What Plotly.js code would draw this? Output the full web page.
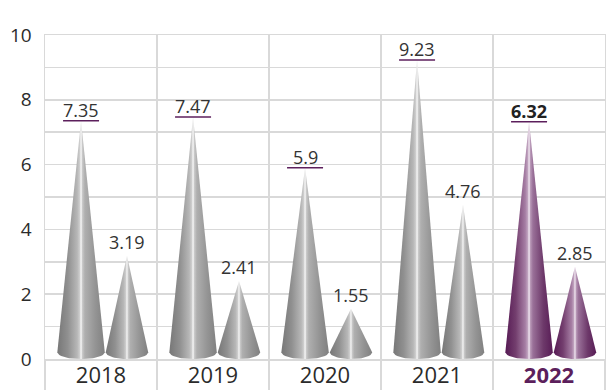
<!DOCTYPE html>
<html>
<head>
<meta charset="utf-8">
<script src="https://cdn.plot.ly/plotly-3.0.1.min.js"></script>
<style>html,body{margin:0;padding:0;background:#fff;}#chart{width:606px;height:390px;}</style>
</head>
<body>
<div id="chart"></div>
<script>
// ---- data ----
const years = ['2018', '2019', '2020', '2021', '2022'];
const firstValues = [7.35, 7.47, 5.9, 9.23, 7.32];
const firstLabels = ['7.35', '7.47', '5.9', '9.23', '6.32'];
const secondValues = [3.19, 2.41, 1.55, 4.76, 2.85];
const secondLabels = ['3.19', '2.41', '1.55', '4.76', '2.85'];
const yTicks = [0, 2, 4, 6, 8, 10];

// ---- style / geometry ----
const FONT = 'Open Sans, Noto Sans, sans-serif';
const GRID = '#d9d9d9';
const PURPLE = '#5c1f5c';
const firstOffset = -0.178, secondOffset = 0.232;
const firstHalf = 0.212, secondHalf = 0.19;
const baseE = 0.2;

const grayScale = [[0, '#777777'], [0.22, '#909090'], [0.42, '#b7b7b7'], [0.475, '#d0d0d0'], [0.5, '#fbfbfb'], [0.525, '#cbcbcb'], [0.58, '#afafaf'], [0.8, '#949494'], [1, '#808080']];
const purpleScale = [[0, '#561a54'], [0.22, '#733e6e'], [0.42, '#a67ea4'], [0.475, '#c2a6c1'], [0.5, '#f7f0f7'], [0.525, '#bb9cba'], [0.58, '#9a7199'], [0.8, '#6d396a'], [1, '#581c56']];

function cone(cx, hw, v, scale) {
  const xs = [cx - hw, cx, cx + hw];
  const ys = [baseE, v, baseE];
  const n = 24;
  for (let i = 1; i < n; i++) {
    const t = 1 - 2 * i / n;
    xs.push(cx + hw * t);
    ys.push(baseE - baseE * Math.sqrt(Math.max(0, 1 - t * t)));
  }
  xs.push(cx - hw); ys.push(baseE);
  return {
    type: 'scatter', mode: 'lines', x: xs, y: ys, fill: 'toself',
    line: {width: 0, color: 'rgba(0,0,0,0)'},
    fillgradient: {type: 'horizontal', colorscale: scale},
    hoverinfo: 'skip', showlegend: false
  };
}

const traces = [];
const annotations = [];
const shapes = [];
years.forEach((yr, i) => {
  const last = i === years.length - 1;
  const scale = last ? purpleScale : grayScale;
  const c1 = i + 0.5 + firstOffset;
  const c2 = i + 0.5 + secondOffset;
  traces.push(cone(c1, firstHalf, firstValues[i], scale));
  traces.push(cone(c2, secondHalf, secondValues[i], scale));
  annotations.push({
    x: c1, y: firstValues[i], xref: 'x', yref: 'y', yanchor: 'bottom', showarrow: false, yshift: -3,
    text: last ? '<b>' + firstLabels[i] + '</b>' : firstLabels[i],
    font: {family: FONT, size: 18, color: last ? '#222' : '#333'}
  });
  annotations.push({
    x: c2, y: secondValues[i], xref: 'x', yref: 'y', yanchor: 'bottom', showarrow: false,
    text: secondLabels[i],
    font: {family: FONT, size: 18, color: '#333'}
  });
  shapes.push({
    type: 'line', xref: 'x', yref: 'y', xsizemode: 'pixel', xanchor: c1, x0: -18, x1: 18,
    ysizemode: 'pixel', yanchor: firstValues[i], y0: 0, y1: 0,
    line: {color: PURPLE, width: 1.5}
  });
});

const tickText = years.map((y, i) => i === years.length - 1 ? '<b><span style="color:' + PURPLE + '">' + y + '</span></b>' : y);

const layout = {
  width: 606, height: 390,
  margin: {l: 45, r: 1, t: 35, b: 31, pad: 0},
  paper_bgcolor: '#fff', plot_bgcolor: '#fff',
  showlegend: false,
  font: {family: FONT, color: '#333'},
  xaxis: {
    range: [0, years.length], fixedrange: true,
    tickmode: 'array', tickvals: years.map((y, i) => i + 0.5), ticktext: tickText,
    ticks: '', showgrid: false, zeroline: false,
    tickfont: {family: FONT, size: 22, color: '#2b2b2b'},
    ticklabelstandoff: -4,
    showline: true, mirror: true, linecolor: GRID, linewidth: 1.5,
    minor: {tickmode: 'linear', tick0: 0, dtick: 1, ticks: 'outside', ticklen: 32, tickwidth: 1.5, tickcolor: GRID, showgrid: true, gridcolor: GRID, gridwidth: 1.5}
  },
  yaxis: {
    range: [0, 10], fixedrange: true,
    tickmode: 'array', tickvals: yTicks, ticktext: yTicks.map(String),
    ticks: '', showgrid: true, gridcolor: GRID, gridwidth: 1.5, zeroline: false,
    tickfont: {family: FONT, size: 19, color: '#2b2b2b'},
    ticklabelstandoff: 8,
    showline: true, mirror: true, linecolor: GRID, linewidth: 1.5,
    minor: {tickmode: 'linear', tick0: 0, dtick: 1, showgrid: true, gridcolor: GRID, gridwidth: 1.5}
  },
  annotations: annotations,
  shapes: shapes
};

Plotly.newPlot('chart', traces, layout, {staticPlot: true, displayModeBar: false});
</script>
</body>
</html>
